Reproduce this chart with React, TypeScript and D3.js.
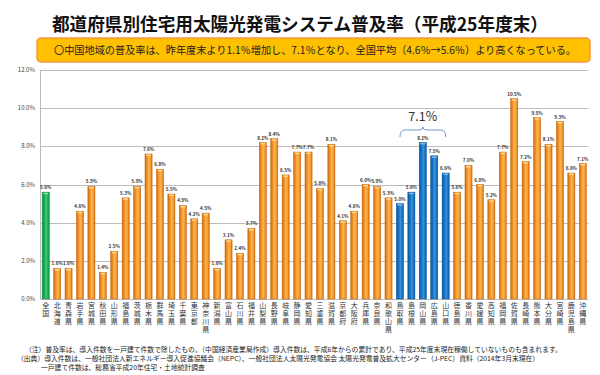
import React from "react";
import * as d3 from "d3";

const title = "都道府県別住宅用太陽光発電システム普及率（平成25年度末）";
const headline = "〇中国地域の普及率は、昨年度末より1.1％増加し、7.1％となり、全国平均（4.6％→5.6％）より高くなっている。";
const categories = ["全国","北海道","青森県","岩手県","宮城県","秋田県","山形県","福島県","茨城県","栃木県","群馬県","埼玉県","千葉県","東京都","神奈川県","新潟県","富山県","石川県","福井県","山梨県","長野県","岐阜県","静岡県","愛知県","三重県","滋賀県","京都府","大阪府","兵庫県","奈良県","和歌山県","鳥取県","島根県","岡山県","広島県","山口県","徳島県","香川県","愛媛県","高知県","福岡県","佐賀県","長崎県","熊本県","大分県","宮崎県","鹿児島県","沖縄県"];
const values = [5.6,1.6,1.6,4.6,5.9,1.4,2.5,5.3,5.9,7.6,6.8,5.5,4.9,4.2,4.5,1.6,3.1,2.4,3.7,8.2,8.4,6.5,7.7,7.7,5.8,8.1,4.1,4.6,6.0,5.9,5.3,5.0,5.6,8.2,7.5,6.6,5.6,7.0,6.0,5.2,7.7,10.5,7.2,9.5,8.1,9.3,6.6,7.1];
const nationalCats = ["全国"];
const chugokuCats = ["鳥取県","島根県","岡山県","広島県","山口県"];
const chugokuLabel = "7.1%";
const yTicks = [0, 2, 4, 6, 8, 10, 12];
const notes = [
  "（注）普及率は、導入件数を一戸建て件数で除したもの。（中国経済産業局作成）導入件数は、平成6年からの累計であり、平成25年度末現在稼働していないものも含まれます。",
  "（出典）導入件数は、一般社団法人新エネルギー導入促進協議会（NEPC）、一般社団法人太陽光発電協会 太陽光発電普及拡大センター（J-PEC）資料（2014年3月末現在）",
  "一戸建て件数は、総務省平成20年住宅・土地統計調査",
];

const FONT = "'Noto Sans CJK JP', 'Noto Sans', sans-serif";

export default function App() {
  const left = 40.5, right = 588.5, top = 70, bottom = 299;
  const x = d3.scaleBand<string>().domain(categories).range([left - 0.5, right]).paddingInner(0.38).paddingOuter(0.19);
  const y = d3.scaleLinear().domain([0, 12]).range([bottom, top]);
  const bw = x.bandwidth();
  const fillFor = (c: string) =>
    nationalCats.includes(c) ? "url(#gGreen)" : chugokuCats.includes(c) ? "url(#gBlue)" : "url(#gOrange)";
  const strokeFor = (c: string) =>
    nationalCats.includes(c) ? "#0B8A3A" : chugokuCats.includes(c) ? "#0A4F90" : "#C0620C";
  const capFor = (c: string) =>
    nationalCats.includes(c) ? "#7FE0A0" : chugokuCats.includes(c) ? "#7DB8EE" : "#FFD88A";

  const c1 = x(chugokuCats[0])! + bw / 2;
  const c2 = x(chugokuCats[chugokuCats.length - 1])! + bw / 2;
  const cm = (c1 + c2) / 2;
  const by = 130;
  const brace = `M${c1},${by + 7} Q${c1},${by} ${c1 + 5},${by} L${cm - 4},${by} Q${cm},${by} ${cm},${by - 3} Q${cm},${by} ${cm + 4},${by} L${c2 - 5},${by} Q${c2},${by} ${c2},${by + 7}`;
  const noteX = [25, 17, 41];
  const noteY = [352, 361, 370];

  return (
    <svg width={600} height={375} style={{ position: "absolute", left: 0, top: 0, background: "#fff" }} fontFamily={FONT}>
      <defs>
        {[
          ["gOrange", "#D2690C", "#F59A2F", "#FBB552"],
          ["gBlue", "#0A5AA6", "#1577C8", "#3C94DC"],
          ["gGreen", "#0B9440", "#19AE54", "#47CB78"],
        ].map(([id, a, b, c]) => (
          <linearGradient key={id} id={id} x1="0" x2="1" y1="0" y2="0">
            <stop offset="0%" stopColor={a} />
            <stop offset="35%" stopColor={b} />
            <stop offset="55%" stopColor={c} />
            <stop offset="80%" stopColor={b} />
            <stop offset="100%" stopColor={a} />
          </linearGradient>
        ))}
      </defs>

      <text x={300} y={31} textAnchor="middle" fontSize={18} fontWeight="bold" fill="#111" textLength={496} lengthAdjust="spacingAndGlyphs">{title}</text>

      <rect x={37} y={38} width={553} height={24} rx={4} fill="#FFC000" stroke="#F79646" strokeWidth={1.5} />
      <text x={54} y={54} fontSize={10.5} fill="#222" textLength={522} lengthAdjust="spacingAndGlyphs">{headline}</text>

      {yTicks.map((t) => (
        <g key={t}>
          <line x1={left} x2={right} y1={Math.round(y(t)) + 0.5} y2={Math.round(y(t)) + 0.5} stroke="#BDBDBD" strokeWidth={1} />
          <text x={35} y={y(t) + 2} textAnchor="end" fontSize={6} fill="#444">{t.toFixed(1)}%</text>
        </g>
      ))}
      <line x1={left} x2={left} y1={top} y2={bottom + 0.5} stroke="#BDBDBD" strokeWidth={1} />

      {categories.map((c, i) => {
        const bx = x(c)!;
        const yt = y(values[i]);
        return (
          <g key={c}>
            <rect x={bx} y={yt} width={bw} height={bottom - yt} fill={fillFor(c)} stroke={strokeFor(c)} strokeWidth={0.5} />
            <rect x={bx + 1} y={yt + 0.5} width={bw - 2} height={1.5} rx={0.7} fill={capFor(c)} />
            <text x={bx + bw / 2} y={yt - 3} textAnchor="middle" fontSize={4.6} fontWeight="bold" fill="#333">{values[i].toFixed(1)}%</text>
            <text
              x={bx + bw / 2}
              y={302}
              fontSize={7}
              fill="#333"
              letterSpacing={1}
              style={{ writingMode: "vertical-rl", textOrientation: "upright" } as any}
            >{c}</text>
          </g>
        );
      })}

      <path d={brace} fill="none" stroke="#6F9BD1" strokeWidth={1} />
      <text x={cm} y={121} textAnchor="middle" fontSize={12.5} fill="#333">{chugokuLabel}</text>

      <text fontSize={6.8} fill="#222">
        {notes.map((n, i) => (
          <tspan key={i} x={noteX[i]} y={noteY[i]}>{n}</tspan>
        ))}
      </text>
    </svg>
  );
}
